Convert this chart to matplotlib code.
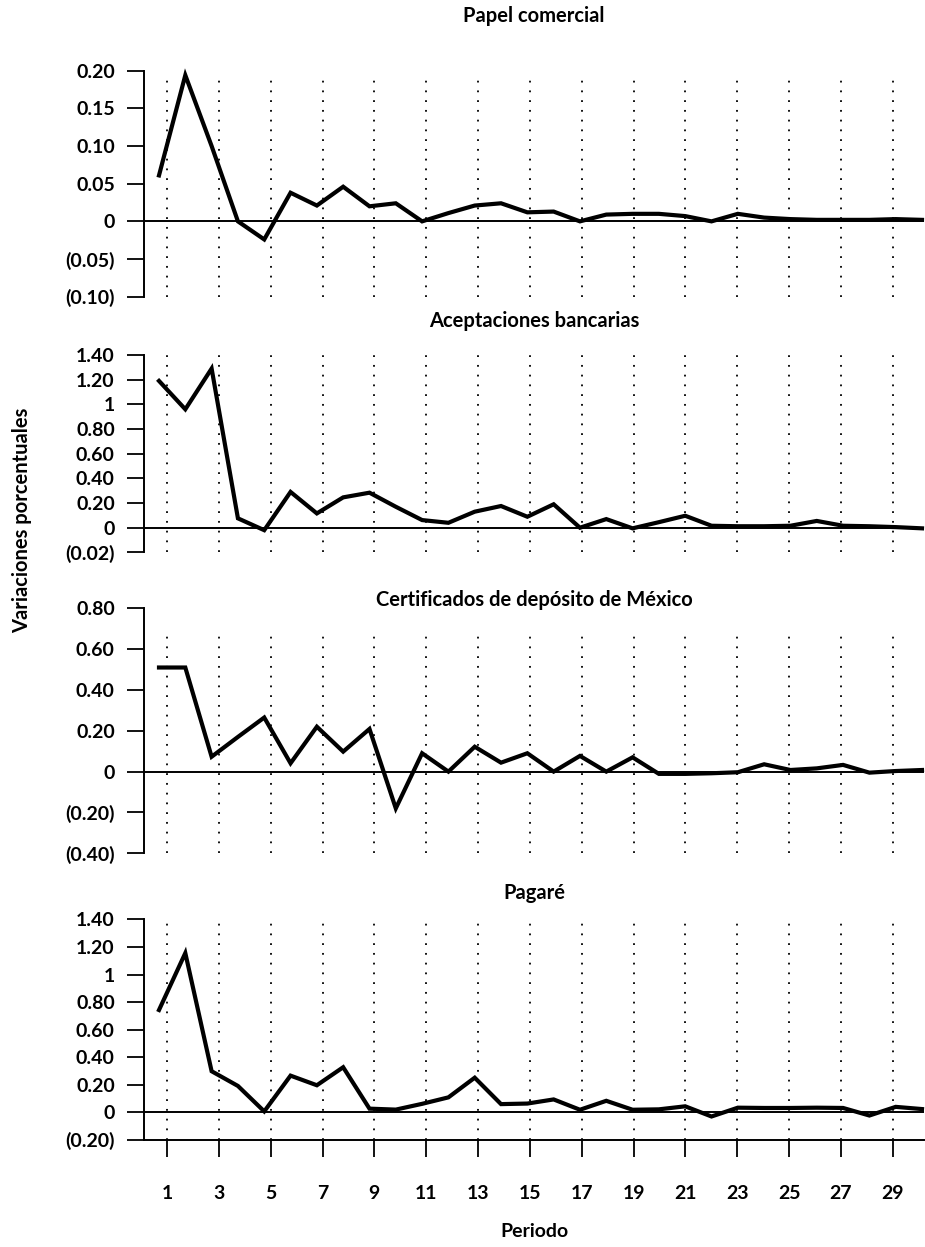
import matplotlib
matplotlib.use("Agg")
import matplotlib.pyplot as plt

# ---------------- data ----------------
periodos = list(range(1, 31))
tick_periodos = list(range(1, 30, 2))
tick_labels = [str(p) for p in tick_periodos]

titulos = ["Papel comercial", "Aceptaciones bancarias",
           "Certificados de depósito de México", "Pagaré"]

papel_comercial = [0.061, 0.194, 0.100, 0.000, -0.024, 0.038, 0.021, 0.046, 0.020, 0.024,
                   0.000, 0.011, 0.021, 0.024, 0.012, 0.013, 0.000, 0.009, 0.010, 0.010,
                   0.007, 0.000, 0.010, 0.005, 0.003, 0.002, 0.002, 0.002, 0.003, 0.002]
aceptaciones = [1.19, 0.96, 1.29, 0.076, -0.020, 0.29, 0.116, 0.246, 0.284, 0.17,
                0.062, 0.040, 0.13, 0.176, 0.089, 0.19, 0.000, 0.070, -0.005, 0.045,
                0.097, 0.016, 0.012, 0.012, 0.016, 0.055, 0.016, 0.012, 0.005, -0.005]
certificados = [0.51, 0.51, 0.073, 0.17, 0.265, 0.041, 0.22, 0.098, 0.209, -0.18,
                0.09, 0.000, 0.122, 0.044, 0.09, 0.000, 0.077, 0.000, 0.070, -0.011,
                -0.011, -0.008, -0.003, 0.036, 0.008, 0.016, 0.033, -0.005, 0.003, 0.008]
pagare = [0.742, 1.156, 0.297, 0.19, 0.005, 0.265, 0.195, 0.326, 0.025, 0.018,
          0.060, 0.107, 0.25, 0.058, 0.062, 0.092, 0.017, 0.082, 0.017, 0.020,
          0.042, -0.032, 0.032, 0.030, 0.030, 0.032, 0.030, -0.025, 0.038, 0.022]
series = [papel_comercial, aceptaciones, certificados, pagare]

yticks_1 = [-0.10, -0.05, 0, 0.05, 0.10, 0.15, 0.20]
ylabels_1 = ["(0.10)", "(0.05)", "0", "0.05", "0.10", "0.15", "0.20"]
yticks_2 = [-0.2, 0, 0.2, 0.4, 0.6, 0.8, 1.0, 1.2, 1.4]
ylabels_2 = ["(0.02)", "0", "0.20", "0.40", "0.60", "0.80", "1", "1.20", "1.40"]
yticks_3 = [-0.4, -0.2, 0, 0.2, 0.4, 0.6, 0.8]
ylabels_3 = ["(0.40)", "(0.20)", "0", "0.20", "0.40", "0.60", "0.80"]
yticks_4 = [-0.2, 0, 0.2, 0.4, 0.6, 0.8, 1.0, 1.2, 1.4]
ylabels_4 = ["(0.20)", "0", "0.20", "0.40", "0.60", "0.80", "1", "1.20", "1.40"]
yticks_all = [yticks_1, yticks_2, yticks_3, yticks_4]
ylabels_all = [ylabels_1, ylabels_2, ylabels_3, ylabels_4]

# ---------------- layout / style ----------------
W, H = 925, 1247
FONT = ["Lato", "DejaVu Sans"]
plt.rcParams["font.family"] = FONT
plt.rcParams["font.weight"] = "bold"

fig = plt.figure(figsize=(W / 100, H / 100), dpi=100)

LEFT, RIGHT = 144, 924
panel_px = [(70.7, 296.7), (355, 552.4), (608.3, 853.3), (919.5, 1139.6)]
title_y_px = [16, 321, 600, 893]
dotted_top = [0.97, 1.0, 0.895, 1.0]
tick_xlim = (1 - 23 / 25.92, 1 + 757 / 25.92)
data_xlim = (1 - 15 / 26.31, 30 + 2 / 26.31)
TICK_FS = 14
TITLE_FS = 14.5

for i in range(4):
    top, bot = panel_px[i]
    ax = fig.add_axes([LEFT / W, 1 - bot / H, (RIGHT - LEFT) / W, (bot - top) / H])
    yt = yticks_all[i]
    ax.set_ylim(yt[0], yt[-1])
    ax.set_xlim(*tick_xlim)
    ax.set_yticks(yt)
    ax.set_yticklabels(ylabels_all[i])
    ax.tick_params(axis="y", direction="out", length=12, width=1.3, pad=9,
                   labelsize=TICK_FS)
    for s in ["top", "right"]:
        ax.spines[s].set_visible(False)
    ax.spines["left"].set_linewidth(1.4)
    ax.patch.set_alpha(0)

    for k in tick_periodos:
        ax.axvline(k, ymin=0, ymax=dotted_top[i], color="black", lw=1.3,
                   linestyle=(0, (1, 4.4)))
    ax.axhline(0, color="black", lw=1.4)

    if i < 3:
        ax.spines["bottom"].set_visible(False)
        ax.set_xticks([])
    else:
        ax.spines["bottom"].set_linewidth(1.4)
        ax.set_xticks(tick_periodos)
        ax.set_xticklabels(tick_labels)
        ax.tick_params(axis="x", direction="out", length=12, width=1.3, pad=21,
                       labelsize=TICK_FS)
        ax.set_xlabel("Periodo", fontsize=TICK_FS, fontweight="bold", labelpad=15)

    axd = ax.twiny()
    axd.set_xlim(*data_xlim)
    axd.set_ylim(yt[0], yt[-1])
    axd.plot(periodos, series[i], color="black", lw=3.0, solid_joinstyle="miter",
             clip_on=False)
    axd.axis("off")

    fig.text((LEFT + RIGHT) / 2 / W, 1 - title_y_px[i] / H, titulos[i],
             ha="center", va="center", fontsize=TITLE_FS, fontweight="bold")

fig.text(22 / W, 1 - 520 / H, "Variaciones porcentuales", rotation=90,
         ha="center", va="center", fontsize=TITLE_FS, fontweight="bold")

fig.savefig("out.png", dpi=100, facecolor="white")
